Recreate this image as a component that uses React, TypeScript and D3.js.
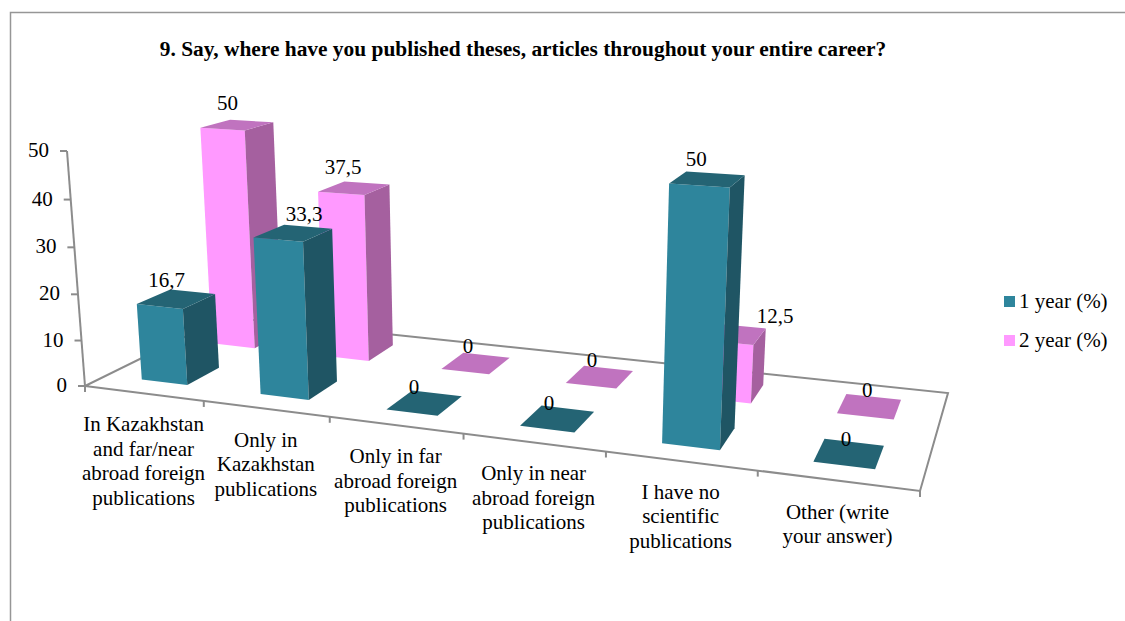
import * as d3 from 'd3';
import { useEffect, useRef } from 'react';

const title = '9. Say, where have you published theses, articles throughout your entire career?';
const categories = [
    ['In Kazakhstan', 'and far/near', 'abroad foreign', 'publications'],
    ['Only in', 'Kazakhstan', 'publications'],
    ['Only in far', 'abroad foreign', 'publications'],
    ['Only in near', 'abroad foreign', 'publications'],
    ['I have no', 'scientific', 'publications'],
    ['Other (write', 'your answer)'],
];
const seriesNames = ['1 year (%)', '2 year (%)'];
const year1 = [16.7, 33.3, 0, 0, 50, 0];
const year2 = [50, 37.5, 0, 0, 12.5, 0];
const yTicks = [0, 10, 20, 30, 40, 50];

const WIDTH = 1125;
const HEIGHT = 621;
const serif = '"Liberation Serif", "Times New Roman", serif';

// floor corners on screen: front-left, front-right, back-right, back-left
const floor = { fl: [85, 386], fr: [920, 491], br: [948, 393], bl: [225, 317] };
const axisTop = [67, 151];
const heightW = -0.0404; // verticals converge far below the chart

const palette = [
    { front: '#2e859c', side: '#1f5564', top: '#246474' },
    { front: '#ff99ff', side: '#a5609f', top: '#c073bf' },
];

// hand-placed data labels, sideways shift from the bar's centre
const labelShift = [
    [7, 26, 2, 2, -3, 2],
    [5, 2, 3, 1, 49, 2],
];

// unit square -> quad homography, extended with a height column
function makeProjection() {
    const [x0, y0] = floor.fl;
    const [x1, y1] = floor.fr;
    const [x2, y2] = floor.br;
    const [x3, y3] = floor.bl;
    const dx1 = x1 - x2, dx2 = x3 - x2, sx = x0 - x1 + x2 - x3;
    const dy1 = y1 - y2, dy2 = y3 - y2, sy = y0 - y1 + y2 - y3;
    const den = dx1 * dy2 - dx2 * dy1;
    const g = (sx * dy2 - dx2 * sy) / den;
    const h = (dx1 * sy - sx * dy1) / den;
    const a = x1 - x0 + g * x1, b = x3 - x0 + h * x3;
    const d = y1 - y0 + g * y1, e = y3 - y0 + h * y3;
    const cx = axisTop[0] * (1 + heightW) - x0;
    const cy = axisTop[1] * (1 + heightW) - y0;
    return (u: number, v: number, t: number): [number, number] => {
        const w = g * u + h * v + 1 + heightW * t;
        return [(a * u + b * v + x0 + cx * t) / w, (d * u + e * v + y0 + cy * t) / w];
    };
}

export default function App() {
    const ref = useRef<SVGSVGElement | null>(null);

    useEffect(() => {
        if (!ref.current) return;
        const svg = d3.select(ref.current);
        svg.selectAll('*').remove();

        const project = makeProjection();
        const u = d3.scaleBand<number>().domain(d3.range(categories.length)).range([0, 1]).paddingInner(0.61).paddingOuter(0.305);
        const v = d3.scaleBand<number>().domain([0, 1]).range([0, 1]).paddingInner(0.55).paddingOuter(0.275);
        const h = d3.scaleLinear().domain([0, 50]).range([0, 1]);
        const poly = d3.line();

        // chart frame
        svg.append('path')
            .attr('d', `M10.5,621V12.5H${WIDTH}`)
            .attr('fill', 'none')
            .attr('stroke', '#969696')
            .attr('stroke-width', 1.5);

        svg.append('text')
            .attr('x', 523)
            .attr('y', 56)
            .attr('text-anchor', 'middle')
            .attr('font-family', serif)
            .attr('font-weight', 'bold')
            .attr('font-size', 21.4)
            .text(title);

        // floor outline and value axis
        const axis = svg.append('g').attr('fill', 'none').attr('stroke', '#8c8c8c').attr('stroke-width', 2);
        axis.append('path').attr('d', poly([project(0, 0, 0), project(1, 0, 0), project(1, 1, 0), project(0, 1, 0)]) + 'Z');
        axis.append('path').attr('d', poly([project(0, 0, 0), project(0, 0, 1)]));
        yTicks.forEach(t => {
            const [x, y] = project(0, 0, h(t));
            axis.append('path').attr('d', `M${x - 7},${y}H${x}`);
            svg.append('text')
                .attr('x', x - 18)
                .attr('y', y + 6)
                .attr('text-anchor', 'end')
                .attr('font-family', serif)
                .attr('font-size', 21)
                .text(t);
        });
        d3.range(categories.length + 1).forEach(i => {
            const [x, y] = project(i / categories.length, 0, 0);
            axis.append('path').attr('d', `M${x},${y}v6`);
        });

        // category labels hang below the front edge
        categories.forEach((lines, i) => {
            const [x, y] = project((i + 0.5) / categories.length, 0, 0);
            lines.forEach((line, k) => {
                svg.append('text')
                    .attr('x', x)
                    .attr('y', y + 38 + k * 24.5)
                    .attr('text-anchor', 'middle')
                    .attr('font-family', serif)
                    .attr('font-size', 21)
                    .text(line);
            });
        });

        // back series first, then the front one
        [1, 0].forEach(s => {
            const values = s === 0 ? year1 : year2;
            const colors = palette[s];
            values.forEach((value, i) => {
                const u0 = u(i) as number, u1 = u0 + u.bandwidth();
                const v0 = v(s) as number, v1 = v0 + v.bandwidth();
                const t = h(value);
                const g = svg.append('g');
                if (value > 0) {
                    g.append('path').attr('fill', colors.front)
                        .attr('d', poly([project(u0, v0, 0), project(u1, v0, 0), project(u1, v0, t), project(u0, v0, t)]) + 'Z');
                    g.append('path').attr('fill', colors.side)
                        .attr('d', poly([project(u1, v0, 0), project(u1, v1, 0), project(u1, v1, t), project(u1, v0, t)]) + 'Z');
                }
                g.append('path').attr('fill', colors.top)
                    .attr('d', poly([project(u0, v0, t), project(u1, v0, t), project(u1, v1, t), project(u0, v1, t)]) + 'Z');
            });
        });

        // data labels after all bars
        [1, 0].forEach(s => {
            const values = s === 0 ? year1 : year2;
            values.forEach((value, i) => {
                const [x, y] = project((u(i) as number) + u.bandwidth() / 2, v(s) as number, h(value));
                svg.append('text')
                    .attr('x', x + labelShift[s][i])
                    .attr('y', y - 19)
                    .attr('text-anchor', 'middle')
                    .attr('font-family', serif)
                    .attr('font-size', 21)
                    .text(String(value).replace('.', ','));
            });
        });

        // legend
        seriesNames.forEach((name, i) => {
            const y = d3.scalePoint<number>().domain([0, 1]).range([301.5, 340.5])(i) as number;
            svg.append('rect').attr('x', 1004).attr('y', y - 5.5).attr('width', 11).attr('height', 11).attr('fill', palette[i].front);
            svg.append('text')
                .attr('x', 1019)
                .attr('y', y + 6)
                .attr('font-family', serif)
                .attr('font-size', 21)
                .text(name);
        });
    }, []);

    return <svg ref={ref} width={WIDTH} height={HEIGHT} style={{ position: 'absolute', left: 0, top: 0, background: '#fff' }} />;
}
